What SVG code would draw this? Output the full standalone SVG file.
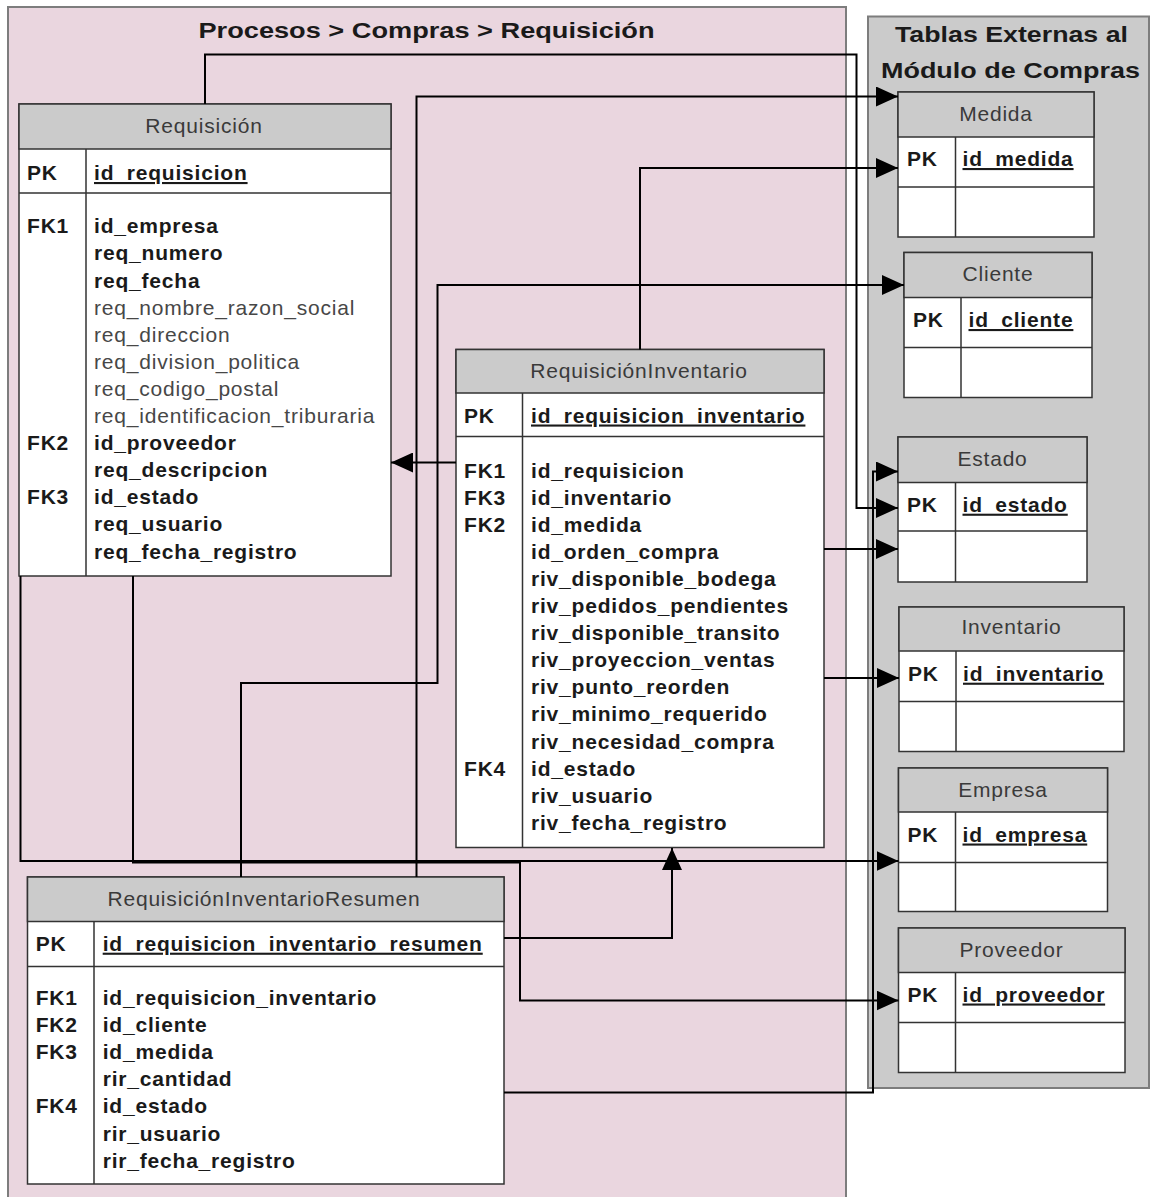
<svg xmlns="http://www.w3.org/2000/svg" width="1150" height="1197" viewBox="0 0 1150 1197">
  <defs>
    <style>
      .pink { fill: #ead6df; stroke: #7d7d7d; stroke-width: 2; }
      .grey { fill: #cbcbcb; stroke: #7d7d7d; stroke-width: 2; }
      .box { fill: #ffffff; stroke: #333333; stroke-width: 1.5; }
      .hdr { fill: #cbcbcb; stroke: #333333; stroke-width: 1.5; }
      .ln { stroke: #333333; stroke-width: 1.5; fill: none; }
      .t { font-family: "Liberation Sans", Arial, sans-serif; font-size: 21px; letter-spacing: 0.8px; }
      .title { font-family: "Liberation Sans", Arial, sans-serif; font-size: 22px; font-weight: bold; fill: #1a1a1a; text-anchor: middle; }
      .hd { fill: #3a3a3a; text-anchor: middle; }
      .b { font-weight: bold; fill: #1a1a1a; }
      .r { fill: #474747; }
      .pk { text-decoration: underline; }
      .conn { fill: none; stroke: #000000; stroke-width: 2; }
    </style>
    <marker id="arrow" markerUnits="userSpaceOnUse" markerWidth="22" markerHeight="20" refX="22" refY="10" orient="auto">
      <path d="M0,0 L22,10 L0,20 Z" fill="#000000"/>
    </marker>
  </defs>

  <rect width="1150" height="1197" fill="#ffffff"/>

  <!-- Containers -->
  <g id="panel-procesos">
    <rect class="pink" x="8" y="7" width="838" height="1200"/>
    <text class="title" x="426.5" y="38" textLength="456" lengthAdjust="spacingAndGlyphs">Procesos &gt; Compras &gt; Requisición</text>
  </g>
  <g id="panel-externas">
    <rect class="grey" x="868" y="16.5" width="281" height="1071.5"/>
    <text class="title" x="1011.5" y="41.7" textLength="233" lengthAdjust="spacingAndGlyphs">Tablas Externas al</text>
    <text class="title" x="1010.5" y="78.3" textLength="259" lengthAdjust="spacingAndGlyphs">Módulo de Compras</text>
  </g>

  <!-- Requisición -->
  <g id="requisicion" class="t">
    <rect class="box" x="19" y="104" width="372" height="472"/>
    <rect class="hdr" x="19" y="104" width="372" height="45"/>
    <path class="ln" d="M19,193 H391 M86,149 V576"/>
    <text class="hd" x="204" y="133">Requisición</text>
    <text class="b" x="27" y="180">PK</text>
    <text class="b pk" x="94" y="180">id_requisicion</text>
    <text class="b" x="27" y="233.3">FK1</text>
    <text class="b" x="94" y="233.3">id_empresa</text>
    <text class="b" x="94" y="260.4">req_numero</text>
    <text class="b" x="94" y="287.5">req_fecha</text>
    <text class="r" x="94" y="314.6">req_nombre_razon_social</text>
    <text class="r" x="94" y="341.7">req_direccion</text>
    <text class="r" x="94" y="368.8">req_division_politica</text>
    <text class="r" x="94" y="395.9">req_codigo_postal</text>
    <text class="r" x="94" y="423">req_identificacion_triburaria</text>
    <text class="b" x="27" y="450.1">FK2</text>
    <text class="b" x="94" y="450.1">id_proveedor</text>
    <text class="b" x="94" y="477.2">req_descripcion</text>
    <text class="b" x="27" y="504.3">FK3</text>
    <text class="b" x="94" y="504.3">id_estado</text>
    <text class="b" x="94" y="531.4">req_usuario</text>
    <text class="b" x="94" y="558.5">req_fecha_registro</text>
  </g>

  <!-- RequisiciónInventario -->
  <g id="requisicion-inventario" class="t">
    <rect class="box" x="456" y="349.5" width="368" height="498"/>
    <rect class="hdr" x="456" y="349.5" width="368" height="43.5"/>
    <path class="ln" d="M456,436.5 H824 M522.5,393 V847.5"/>
    <text class="hd" x="639" y="378">RequisiciónInventario</text>
    <text class="b" x="464" y="422.5">PK</text>
    <text class="b pk" x="531" y="422.5">id_requisicion_inventario</text>
    <text class="b" x="464" y="477.5">FK1</text>
    <text class="b" x="531" y="477.5">id_requisicion</text>
    <text class="b" x="464" y="504.6">FK3</text>
    <text class="b" x="531" y="504.6">id_inventario</text>
    <text class="b" x="464" y="531.7">FK2</text>
    <text class="b" x="531" y="531.7">id_medida</text>
    <text class="b" x="531" y="558.8">id_orden_compra</text>
    <text class="b" x="531" y="585.9">riv_disponible_bodega</text>
    <text class="b" x="531" y="613">riv_pedidos_pendientes</text>
    <text class="b" x="531" y="640.1">riv_disponible_transito</text>
    <text class="b" x="531" y="667.2">riv_proyeccion_ventas</text>
    <text class="b" x="531" y="694.3">riv_punto_reorden</text>
    <text class="b" x="531" y="721.4">riv_minimo_requerido</text>
    <text class="b" x="531" y="748.5">riv_necesidad_compra</text>
    <text class="b" x="464" y="775.6">FK4</text>
    <text class="b" x="531" y="775.6">id_estado</text>
    <text class="b" x="531" y="802.7">riv_usuario</text>
    <text class="b" x="531" y="829.8">riv_fecha_registro</text>
  </g>

  <!-- RequisiciónInventarioResumen -->
  <g id="requisicion-inventario-resumen" class="t">
    <rect class="box" x="27.5" y="877" width="476.5" height="307"/>
    <rect class="hdr" x="27.5" y="877" width="476.5" height="44.5"/>
    <path class="ln" d="M27.5,966.5 H504 M94,921.5 V1184"/>
    <text class="hd" x="264" y="906">RequisiciónInventarioResumen</text>
    <text class="b" x="35.7" y="950.7">PK</text>
    <text class="b pk" x="102.7" y="950.7">id_requisicion_inventario_resumen</text>
    <text class="b" x="35.7" y="1005">FK1</text>
    <text class="b" x="102.7" y="1005">id_requisicion_inventario</text>
    <text class="b" x="35.7" y="1032.1">FK2</text>
    <text class="b" x="102.7" y="1032.1">id_cliente</text>
    <text class="b" x="35.7" y="1059.2">FK3</text>
    <text class="b" x="102.7" y="1059.2">id_medida</text>
    <text class="b" x="102.7" y="1086.3">rir_cantidad</text>
    <text class="b" x="35.7" y="1113.4">FK4</text>
    <text class="b" x="102.7" y="1113.4">id_estado</text>
    <text class="b" x="102.7" y="1140.5">rir_usuario</text>
    <text class="b" x="102.7" y="1167.6">rir_fecha_registro</text>
  </g>

  <!-- External tables -->
  <g id="medida" class="t">
    <rect class="box" x="898" y="92" width="196" height="145"/>
    <rect class="hdr" x="898" y="92" width="196" height="45"/>
    <path class="ln" d="M898,187 H1094 M955.5,137 V237"/>
    <text class="hd" x="996" y="120.5">Medida</text>
    <text class="b" x="907" y="166">PK</text>
    <text class="b pk" x="962.5" y="166">id_medida</text>
  </g>
  <g id="cliente" class="t">
    <rect class="box" x="904" y="252.5" width="188" height="145"/>
    <rect class="hdr" x="904" y="252.5" width="188" height="45"/>
    <path class="ln" d="M904,347.5 H1092 M961,297.5 V397.5"/>
    <text class="hd" x="998" y="281">Cliente</text>
    <text class="b" x="913" y="327">PK</text>
    <text class="b pk" x="968.5" y="327">id_cliente</text>
  </g>
  <g id="estado" class="t">
    <rect class="box" x="898" y="437" width="189" height="145"/>
    <rect class="hdr" x="898" y="437" width="189" height="45.5"/>
    <path class="ln" d="M898,531 H1087 M955.5,482.5 V582"/>
    <text class="hd" x="992.5" y="465.7">Estado</text>
    <text class="b" x="907" y="511.7">PK</text>
    <text class="b pk" x="962.5" y="511.7">id_estado</text>
  </g>
  <g id="inventario" class="t">
    <rect class="box" x="899" y="607" width="225" height="144.5"/>
    <rect class="hdr" x="899" y="607" width="225" height="44"/>
    <path class="ln" d="M899,701.5 H1124 M956,651 V751.5"/>
    <text class="hd" x="1011.5" y="634.3">Inventario</text>
    <text class="b" x="908" y="680.7">PK</text>
    <text class="b pk" x="963" y="680.7">id_inventario</text>
  </g>
  <g id="empresa" class="t">
    <rect class="box" x="898.5" y="768" width="209" height="143.5"/>
    <rect class="hdr" x="898.5" y="768" width="209" height="44"/>
    <path class="ln" d="M898.5,862.5 H1107.5 M955.5,812 V911.5"/>
    <text class="hd" x="1003" y="796.5">Empresa</text>
    <text class="b" x="907.5" y="841.5">PK</text>
    <text class="b pk" x="962.5" y="841.5">id_empresa</text>
  </g>
  <g id="proveedor" class="t">
    <rect class="box" x="898.5" y="928" width="226.5" height="144.5"/>
    <rect class="hdr" x="898.5" y="928" width="226.5" height="44.5"/>
    <path class="ln" d="M898.5,1022.5 H1125 M955.5,972.5 V1072.5"/>
    <text class="hd" x="1011.5" y="956.5">Proveedor</text>
    <text class="b" x="907.5" y="1001.5">PK</text>
    <text class="b pk" x="962.5" y="1001.5">id_proveedor</text>
  </g>

  <!-- Relationships -->
  <g id="connectors" class="conn">
    <path d="M205,104 V54.5 H856.5 V508 H898" marker-end="url(#arrow)"/>
    <path d="M416.5,877 V96.5 H898" marker-end="url(#arrow)"/>
    <path d="M640,349.5 V168 H898" marker-end="url(#arrow)"/>
    <path d="M241,877 V683 H437.5 V285 H904" marker-end="url(#arrow)"/>
    <path d="M456,462.5 H391" marker-end="url(#arrow)"/>
    <path d="M824,549 H898" marker-end="url(#arrow)"/>
    <path d="M824,678 H899" marker-end="url(#arrow)"/>
    <path d="M504,938 H672 V848" marker-end="url(#arrow)"/>
    <path d="M20.5,576 V861 H898.5" marker-end="url(#arrow)"/>
    <path d="M133,576 V862.5 H520 V1000.5 H898.5" marker-end="url(#arrow)"/>
    <path d="M504,1092.5 H873 V471.5 H898" marker-end="url(#arrow)"/>
  </g>
</svg>
